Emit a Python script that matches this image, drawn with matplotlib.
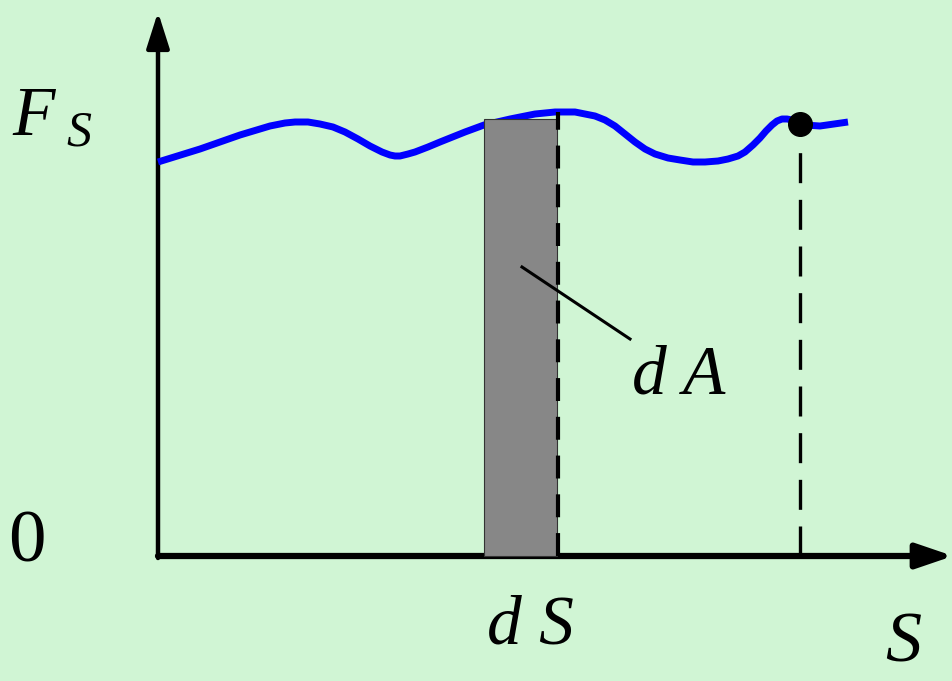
import matplotlib.pyplot as plt

# curve F_s(s) (origin at the axes corner)
s_vals = [0, 42, 82, 112, 127, 137, 150, 162, 175, 187, 200, 212, 224, 232, 237,
          242, 250, 257, 270, 282, 307, 326, 352, 377, 397, 417, 437, 447, 457,
          467, 477, 487, 497, 510, 522, 535, 547, 560, 570, 580, 587, 595, 602,
          608, 614, 619, 624, 629, 634, 647, 662, 690]
f_vals = [394, 407, 421, 430, 433, 434, 434, 432, 429, 424, 417, 410, 404, 401,
          400, 400, 402, 404, 409, 414, 424, 431, 437, 442, 444, 444, 440, 436,
          430, 422, 414, 407, 402, 398, 396, 394, 394, 395, 397, 400, 404, 411,
          418, 425, 431, 435, 437, 437, 436, 431, 430, 434]

# the strip dA
ds_left = 326
ds_width = 73
ds_height = 437
ds_line_top = 444

# the marked point
point_s = 642
point_f = 432

# leader line for "d A"
leader_s = [364, 472]
leader_f = [289, 217]

BG = "#d0f5d4"
FONT = dict(family="Liberation Serif", style="italic", color="black")


def main():
    fig = plt.figure(figsize=(9.53, 6.81), dpi=100, facecolor=BG)
    ax = fig.add_axes([0, 0, 1, 1])
    ax.set_facecolor(BG)
    ax.set_xlim(-158, 795)
    ax.set_ylim(-125, 556)
    ax.axis("off")

    # axes with arrows
    ax.annotate("", xy=(795, 0), xytext=(0, 0),
                arrowprops=dict(arrowstyle="-|>,head_length=2.2,head_width=0.75",
                                mutation_scale=10, lw=4.5, color="black",
                                shrinkA=0, shrinkB=0))
    ax.annotate("", xy=(0, 544), xytext=(0, -2),
                arrowprops=dict(arrowstyle="-|>,head_length=2.2,head_width=0.7",
                                mutation_scale=10, lw=3.2, color="black",
                                shrinkA=0, shrinkB=0))

    # curve
    ax.plot(s_vals, f_vals, color="#0000ff", lw=5, solid_capstyle="butt",
            solid_joinstyle="round", zorder=3)

    # strip
    ax.bar(ds_left, ds_height, width=ds_width, align="edge", color="#878787",
           edgecolor="#333333", lw=0.8, zorder=4)
    ax.plot([ds_left + ds_width + 1] * 2, [0, ds_line_top], color="black",
            lw=3, ls=(0, (5.5, 3.8)), zorder=5)

    # point and its dashed drop line
    ax.plot([point_s, point_s], [0, point_f], color="black", lw=2.4,
            ls=(0, (9, 5)), zorder=5)
    ax.plot(point_s, point_f, "o", color="black", ms=17, zorder=6)

    # leader
    ax.plot(leader_s, leader_f, color="black", lw=2.2, zorder=6)

    # labels
    ax.text(-146, 421, "F", fontsize=50, ha="left", va="baseline", **FONT)
    ax.text(-92, 410, "S", fontsize=36, ha="left", va="baseline", **FONT)
    ax.text(-131, 12, "0", fontsize=54, ha="center", va="center",
            family="Liberation Serif", color="black")
    ax.text(329, -87, "d S", fontsize=50, ha="left", va="baseline", **FONT)
    ax.text(727, -106, "S", fontsize=52, ha="left", va="baseline", **FONT)
    ax.text(474, 163, "d A", fontsize=50, ha="left", va="baseline", **FONT)

    fig.savefig("out.png", dpi=100, facecolor=BG)
    plt.close(fig)


if __name__ == "__main__":
    main()
